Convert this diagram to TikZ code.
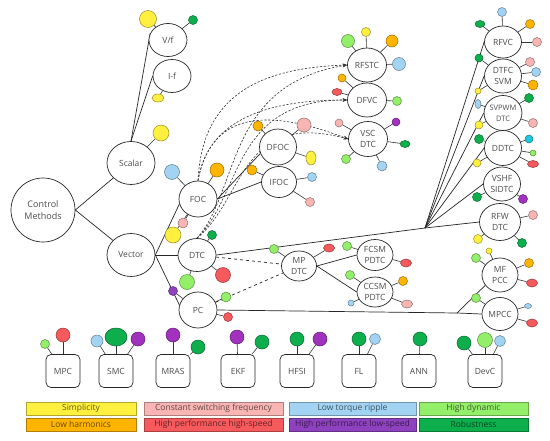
\documentclass[tikz,border=0pt]{standalone}
\usepackage{fontspec}
\setmainfont{Open Sans}
\usetikzlibrary{shapes.geometric,arrows.meta}
\pgfdeclarelayer{back}
\pgfdeclarelayer{lines}
\pgfsetlayers{back,lines,main}
\definecolor{yel}{HTML}{FFEF3F}
\definecolor{org}{HTML}{FFB400}
\definecolor{pnk}{HTML}{F8B5B3}
\definecolor{red}{HTML}{F65A5C}
\definecolor{blu}{HTML}{A2D3F3}
\definecolor{pur}{HTML}{A032BE}
\definecolor{purl}{HTML}{8E42BF}
\definecolor{lgr}{HTML}{93EE6A}
\definecolor{dgr}{HTML}{0DAF4D}
\definecolor{cya}{HTML}{1EC6DE}
\tikzset{
    method/.style={ellipse, draw=black!85, fill=white, line width=0.7pt,
        inner sep=0pt, align=center, text=black!70,
        font=\fontsize{8.5}{11.5}\selectfont,
        minimum width=38pt, minimum height=34pt},
    algo/.style={rectangle, rounded corners=5pt, draw=black!85, fill=white,
        line width=0.7pt, text=black!70, font=\fontsize{8.5}{10}\selectfont,
        minimum width=34pt, minimum height=33pt},
    attr/.style={ellipse, draw=#1!60!black, fill=#1, line width=0.5pt, inner sep=0pt},
    stub/.style={line width=0.6pt, black!80},
    branch/.style={line width=0.7pt, black!85},
    derive/.style={dashed, dash pattern=on 2.2pt off 1.6pt, line width=0.6pt,
        black!80, -{Stealth[length=4.5pt,width=3.5pt]}},
    legbox/.style={rectangle, draw=#1!70!black, fill=#1, text=#1!40!black,
        line width=0.6pt, minimum height=13pt, inner sep=0pt,
        font=\fontsize{8.5}{10}\selectfont}
}
\begin{document}
\begin{tikzpicture}[x=1pt,y=-1pt]
    \useasboundingbox (0,0) rectangle (550,440);
    \begin{pgfonlayer}{back}
        \fill[white] (0,0) rectangle (550,440);
    \end{pgfonlayer}

    \node[method, minimum width=64pt, minimum height=64pt,
        font=\fontsize{9}{12}\selectfont] (ctrl) at (43,210) {Control\\Methods};
    \node[method, minimum width=48pt, minimum height=43pt] (scalar) at (131,163) {Scalar};
    \node[method, minimum width=48pt, minimum height=43pt] (vector) at (131,255) {Vector};
    \node[method, minimum height=33pt] (vf) at (168,40) {V/f};
    \node[method, minimum height=33pt] (curf) at (172,76) {I-f};
    \node[method, minimum height=36pt] (foc) at (198,199) {FOC};
    \node[method, minimum height=33pt] (dtc) at (197,255) {DTC};
    \node[method, minimum height=36pt] (pc) at (198,310) {PC};
    \node[method, minimum width=37pt, minimum height=36pt] (dfoc) at (278,147) {DFOC};
    \node[method, minimum width=35pt, minimum height=31pt] (ifoc) at (279,182) {IFOC};
    \node[method, minimum width=39pt] (rfstc) at (367,65) {RFSTC};
    \node[method, minimum width=39pt] (dfvc) at (367,100) {DFVC};
    \node[method, minimum width=39pt, minimum height=35pt] (vsc) at (368,139) {VSC\\DTC};
    \node[method, minimum width=35pt, minimum height=30pt] (mpdtc) at (299,266) {MP\\DTC};
    \node[method, minimum width=36pt, minimum height=31pt] (fcsm) at (375,255) {FCSM\\PDTC};
    \node[method, minimum width=36pt, minimum height=30pt] (ccsm) at (375,292) {CCSM\\PDTC};
    \node[method, minimum width=37pt, minimum height=32pt] (rfvc) at (503,42) {RFVC};
    \node[method, minimum width=37pt] (dtfc) at (503,76) {DTFC\\SVM};
    \node[method, minimum width=37pt, minimum height=35pt,
        font=\fontsize{7.5}{11}\selectfont] (svpwm) at (503,113) {SVPWM\\DTC};
    \node[method, minimum width=37pt, minimum height=35pt] (ddtc) at (503,148) {DDTC};
    \node[method, minimum width=37pt] (vshf) at (502,184) {VSHF\\SIDTC};
    \node[method, minimum width=41pt, minimum height=37pt] (rfw) at (500,222) {RFW\\DTC};
    \node[method, minimum width=36pt] (mfpcc) at (500,275) {MF\\PCC};
    \node[method, minimum width=36pt, minimum height=33pt] (mpcc) at (500,314) {MPCC};

    \node[algo] (mpc) at (63,371) {MPC};
    \node[algo] (smc) at (116,371) {SMC};
    \node[algo] (mras) at (173,371) {MRAS};
    \node[algo] (ekf) at (238,371) {EKF};
    \node[algo] (hfsi) at (297,371) {HFSI};
    \node[algo] (fl) at (359,371) {FL};
    \node[algo] (ann) at (419,371) {ANN};
    \node[algo] (devc) at (485,371) {DevC};

    \coordinate (jr) at (425,228);
    \coordinate (jp) at (457,313);

    \begin{pgfonlayer}{lines}
        \draw[branch] (ctrl.east) -- (scalar);
        \draw[branch] (ctrl.east) -- (vector);
        \draw[branch] (scalar.north) -- (vf.160);
        \draw[branch] (scalar.north) -- (curf.west);
        \draw[branch] (vector.east) -- (foc.195);
        \draw[branch] (vector.east) -- (dtc.west);
        \draw[branch] (vector.east) -- (pc.165);
        \draw[branch] (foc.east) -- (dfoc.200);
        \draw[branch] (foc.east) -- (ifoc.west);
        \draw[branch] (dtc.east) -- (jr);
        \foreach \t in {rfvc,dtfc,svpwm,ddtc,vshf,rfw}
            \draw[branch] (jr) -- (\t.west);
        \draw[branch] (mpdtc.east) -- (fcsm.west);
        \draw[branch] (mpdtc.east) -- (ccsm.west);
        \draw[branch] (pc.east) -- (jp);
        \draw[branch] (jp) -- (mfpcc.215);
        \draw[branch] (jp) -- (mpcc.west);
        \draw[branch, dashed] (dtc) -- (mpdtc);
        \draw[branch, dashed] (pc) -- (mpdtc);
        \draw[derive] (foc.north) .. controls (202,95) and (260,68) .. (rfstc.west);
        \draw[derive] (foc.north) .. controls (208,118) and (270,100) .. (dfvc.west);
        \draw[derive] (foc.north) .. controls (212,108) and (272,110) .. (vsc.west);
        \draw[derive] (dtc.north) .. controls (240,190) and (225,85) .. (rfstc.west);
        \draw[derive] (dtc.north) .. controls (242,195) and (232,100) .. (dfvc.west);
        \draw[derive] (dtc.north) .. controls (244,200) and (240,110) .. (vsc.west);
    \end{pgfonlayer}

    \foreach \p/\c/\w/\h/\x/\y [count=\i] in {
        vf/yel/17/17/148/19, vf/dgr/9/9/193/20, curf/yel/12/8/158/98,
        scalar/yel/16/16/161/133,
        foc/blu/15/15/172/172, foc/org/14/14/217/170,
        foc/yel/16/16/173/235, foc/pnk/10/10/183/223,
        dtc/dgr/9/9/212/235, dtc/red/15/15/223/275, dtc/lgr/15/15/187/282,
        pc/purl/9/9/173/291, pc/lgr/10/10/226/297, pc/red/9/9/228/317,
        dfoc/org/10/10/258/126, dfoc/pnk/14/14/304/125, dfoc/yel/10/14/311/158,
        ifoc/org/10/10/252/170, ifoc/blu/9/9/312/177, ifoc/pnk/9/9/310/202,
        rfstc/lgr/13/13/348/41, rfstc/yel/9/9/366/32,
        rfstc/org/12/12/392/41, rfstc/blu/13/13/399/64,
        dfvc/org/8/8/342/78, dfvc/red/10/7/337/92, dfvc/lgr/9/9/397/101,
        vsc/pnk/8/8/339/123, vsc/lgr/9/9/346/159, vsc/pur/8/8/396/122,
        vsc/dgr/10/7/405/144, vsc/blu/10/10/382/166,
        mpdtc/lgr/9/9/274/249, mpdtc/red/11/8/329/248,
        fcsm/lgr/9/9/347/246, fcsm/red/11/8/406/263,
        ccsm/lgr/9/9/350/275, ccsm/blu/6/6/351/303,
        ccsm/org/9/9/403/281, ccsm/pnk/11/8/407/304,
        rfvc/blu/9/9/502/12, rfvc/dgr/10/7/480/24,
        rfvc/org/9/9/530/24, rfvc/pnk/9/9/537/42,
        dtfc/dgr/8/8/479/58, dtfc/yel/6/6/478/91, dtfc/pnk/9/9/530/62,
        dtfc/blu/9/9/536/72, dtfc/org/10/10/533/85,
        svpwm/blu/6/9/478/104, svpwm/yel/8/8/479/125,
        svpwm/dgr/9/9/529/98, svpwm/pnk/9/9/533/123,
        ddtc/dgr/9/9/479/139, ddtc/yel/8/8/477/163, ddtc/cya/8/8/529/139,
        ddtc/lgr/6/6/533/153, ddtc/red/11/7/533/164,
        vshf/dgr/9/9/477/197, vshf/pur/9/9/523/199,
        rfw/pnk/9/9/533/215, rfw/yel/9/9/478/239, rfw/dgr/9/9/522/243,
        mfpcc/lgr/9/9/476/258, mfpcc/yel/6/6/489/251,
        mfpcc/org/9/9/529/263, mfpcc/red/11/8/532/283,
        mpcc/lgr/9/9/476/298, mpcc/blu/7/5/528/306, mpcc/red/11/8/532/323,
        mpc/lgr/9/9/45/344, mpc/red/14/14/63/335,
        smc/blu/12/12/97/341, smc/dgr/22/18/116/337, smc/pur/14/14/138/339,
        mras/pur/14/14/173/335, mras/dgr/14/14/198/347,
        ekf/pur/14/14/237/337, ekf/dgr/14/14/262/342,
        hfsi/dgr/14/14/297/339, hfsi/pur/14/14/320/339,
        fl/dgr/14/14/359/339, fl/blu/11/11/375/339,
        ann/dgr/14/14/420/339,
        devc/dgr/14/14/464/343, devc/lgr/15/15/485/340, devc/blu/11/11/500/341
    }{
        \node[attr=\c, minimum width=\w pt, minimum height=\h pt] (a\i) at (\x,\y) {};
        \begin{pgfonlayer}{lines}
            \draw[stub] (\p) -- (a\i);
        \end{pgfonlayer}
    }

    \node[legbox=yel, minimum width=110pt] (lsimp) at (81,408.5) {Simplicity};
    \node[legbox=org, minimum width=110pt] (lharm) at (81,424.5) {Low harmonics};
    \node[legbox=pnk, minimum width=139pt] (lcsf) at (213.5,408.5) {Constant switching frequency};
    \node[legbox=red, minimum width=139pt] (lhhs) at (213.5,424.5) {High performance high-speed};
    \node[legbox=blu, minimum width=127pt] (ltrq) at (352.5,408.5) {Low torque ripple};
    \node[legbox=purl, minimum width=127pt] (lhls) at (352.5,424.5) {High performance low-speed};
    \node[legbox=lgr, minimum width=109pt] (ldyn) at (473.5,408.5) {High dynamic};
    \node[legbox=dgr, minimum width=109pt] (lrob) at (473.5,424.5) {Robustness};
\end{tikzpicture}
\end{document}
